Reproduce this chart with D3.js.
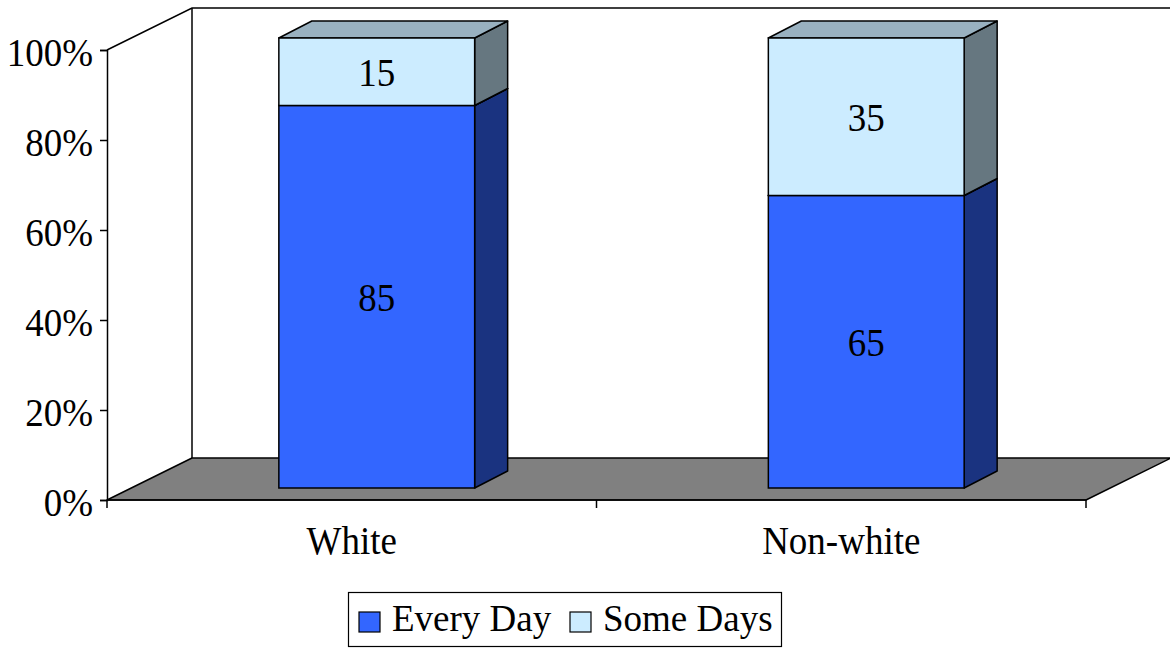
<!DOCTYPE html>
<html>
<head>
<meta charset="utf-8">
<script src="https://cdn.jsdelivr.net/npm/d3@7/dist/d3.min.js"></script>
<style>
  html, body { margin: 0; padding: 0; background: #fff; }
  svg { display: block; }
</style>
</head>
<body>
<svg id="chart" width="1170" height="648"></svg>
<script>
// Share of each group, in percent
const categories = ["White", "Non-white"];
const everyDay = [85, 65];
const someDays = [15, 35];
const seriesNames = ["Every Day", "Some Days"];
const yTicks = [0, 20, 40, 60, 80, 100];

const W = 1170, H = 648;
const FONT = "Liberation Serif";
const FS = 37;
const STRETCH = 1.08;   // slightly tall lettering
const svg = d3.select("#chart");

// Front plane of the plot and the 3-D depth offsets
const plot = { left: 107, right: 1086, top: 50, bottom: 500 };
const wallDX = 85, wallDY = -42;      // back wall offset
const barFX = 25, barFY = -12;        // bar front face offset
const barDX = 33, barDY = -17;        // bar depth

const colors = {
  "Every Day": { front: "#3366ff", side: "#1a3380", top: "#2a55d0" },
  "Some Days": { front: "#ccecff", side: "#667780", top: "#99b1c0" }
};

const x = d3.scaleBand().domain(categories)
  .range([plot.left, plot.right]).paddingInner(0.6).paddingOuter(0.3);
const xTick = d3.scaleBand().domain(categories).range([plot.left, plot.right]);
const y = d3.scaleLinear().domain([0, 100]).range([plot.bottom, plot.top]);

const line = d3.line();

// Text placed by its baseline, stretched a little vertically
function label(parent, tx, ty, str, anchor, stretch) {
  return parent.append("text")
    .attr("transform", `translate(${tx},${ty}) scale(1,${stretch})`)
    .attr("text-anchor", anchor)
    .attr("font-family", FONT).attr("font-size", FS).attr("fill", "#000")
    .text(str);
}

// Back wall and left wall outlines
svg.append("path")
  .attr("d", line([[plot.left, y(100)], [plot.left + wallDX, y(100) + wallDY],
                   [W + 2, y(100) + wallDY]]))
  .attr("fill", "none").attr("stroke", "#000").attr("stroke-width", 1.5);
svg.append("line")
  .attr("x1", plot.left + wallDX).attr("x2", plot.left + wallDX)
  .attr("y1", y(100) + wallDY).attr("y2", y(0) + wallDY)
  .attr("stroke", "#000").attr("stroke-width", 1.5);

// Floor
svg.append("path")
  .attr("d", line([[plot.left, y(0)], [plot.right, y(0)],
                   [plot.right + wallDX, y(0) + wallDY],
                   [plot.left + wallDX, y(0) + wallDY]]) + "Z")
  .attr("fill", "#808080").attr("stroke", "#000").attr("stroke-width", 1.5)
  .attr("stroke-linejoin", "round");

// Value axis
const yAxis = svg.append("g").attr("transform", `translate(${plot.left},0)`)
  .call(d3.axisLeft(y).tickValues(yTicks).tickFormat(d => d + "%").tickSize(7));
yAxis.select(".domain").attr("stroke", "#000").attr("stroke-width", 1.5);
yAxis.selectAll(".tick line").attr("stroke", "#000").attr("stroke-width", 1.5);
yAxis.selectAll(".tick text").remove();
yAxis.selectAll(".tick").each(function (d) {
  label(d3.select(this), -14, 15.5, d + "%", "end", STRETCH);
});

// Category axis
const xAxis = svg.append("g").attr("transform", `translate(0,${plot.bottom})`);
xAxis.append("line").attr("x1", plot.left).attr("x2", plot.right)
  .attr("y1", 0).attr("y2", 0).attr("stroke", "#000").attr("stroke-width", 1.5);
const edges = categories.map(c => xTick(c)).concat([plot.right]);
xAxis.selectAll("line.tk").data(edges).join("line").attr("class", "tk")
  .attr("x1", d => d).attr("x2", d => d).attr("y1", 0).attr("y2", 8)
  .attr("stroke", "#000").attr("stroke-width", 1.5);
categories.forEach(c => {
  label(xAxis, xTick(c) + xTick.bandwidth() / 2, 54, c, "middle", STRETCH);
});

// Stacked bars
const stackData = categories.map((c, i) => ({ cat: c, "Every Day": everyDay[i], "Some Days": someDays[i] }));
const stacked = d3.stack().keys(seriesNames)(stackData);
const bw = x.bandwidth();

const bars = svg.append("g");
stacked.forEach(layer => {
  const key = layer.key;
  layer.forEach(seg => {
    const cat = seg.data.cat;
    const x0 = x(cat) + barFX, x1 = x0 + bw;
    const yT = y(seg[1]) + barFY, yB = y(seg[0]) + barFY;
    const g = bars.append("g");
    // right side face
    g.append("path")
      .attr("d", line([[x1, yT], [x1 + barDX, yT + barDY], [x1 + barDX, yB + barDY], [x1, yB]]) + "Z")
      .attr("fill", colors[key].side).attr("stroke", "#000").attr("stroke-width", 1.5)
      .attr("stroke-linejoin", "round");
    // top face
    g.append("path")
      .attr("d", line([[x0, yT], [x0 + barDX, yT + barDY], [x1 + barDX, yT + barDY], [x1, yT]]) + "Z")
      .attr("fill", colors[key].top).attr("stroke", "#000").attr("stroke-width", 1.5)
      .attr("stroke-linejoin", "round");
    // front face
    g.append("rect")
      .attr("x", x0).attr("y", yT).attr("width", bw).attr("height", yB - yT)
      .attr("fill", colors[key].front).attr("stroke", "#000").attr("stroke-width", 1.5);
    // value label
    label(g, x0 + bw / 2, (yT + yB) / 2 + 14.5, seg[1] - seg[0], "middle", STRETCH);
  });
});

// Legend
const legend = svg.append("g");
legend.append("rect").attr("x", 348.5).attr("y", 592.5).attr("width", 433).attr("height", 54)
  .attr("fill", "#fff").attr("stroke", "#000").attr("stroke-width", 1.2);
const legendX = [359, 570];
seriesNames.forEach((name, i) => {
  legend.append("rect").attr("x", legendX[i]).attr("y", 612).attr("width", 21).attr("height", 20)
    .attr("fill", colors[name].front).attr("stroke", "#000").attr("stroke-width", 1.2);
  label(legend, legendX[i] + 33, 631, name, "start", 1);
});
</script>
</body>
</html>
